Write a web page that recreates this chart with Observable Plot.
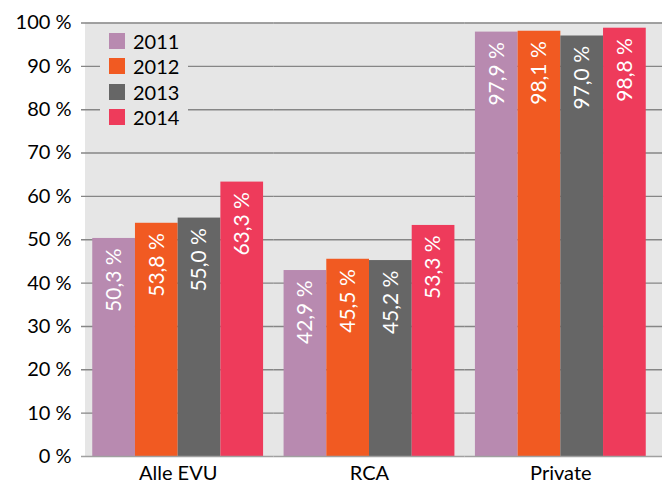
<!DOCTYPE html>
<html><head><meta charset="utf-8">
<script src="https://cdn.jsdelivr.net/npm/d3@7"></script>
<script src="https://cdn.jsdelivr.net/npm/@observablehq/plot@0.6"></script>
<style>
body{margin:0;background:#fff;}
#wrap{position:relative;width:662px;height:483px;font-family:Lato,sans-serif;}
#legend{position:absolute;left:100px;top:28px;width:88px;height:102px;background:#e6e6e6;}
.item{position:absolute;left:9px;height:16px;display:flex;align-items:center;font-size:20px;color:#000;white-space:nowrap;}
.sw{width:16px;height:16px;margin-right:8px;flex:none;}
</style></head><body><div id="wrap"></div>
<script>
const categories = ["Alle EVU", "RCA", "Private"];
const years = ["2011", "2012", "2013", "2014"];
const v2011 = [50.3, 42.9, 97.9];
const v2012 = [53.8, 45.5, 98.1];
const v2013 = [55.0, 45.2, 97.0];
const v2014 = [63.3, 53.3, 98.8];
const colors = ["#b88ab0", "#f15a22", "#666666", "#ee3b5b"];
const yTicks = [0, 10, 20, 30, 40, 50, 60, 70, 80, 90, 100];

const series = [v2011, v2012, v2013, v2014];
const data = categories.flatMap((c, i) => years.map((y, j) => ({category: c, year: y, value: series[j][i]})));
const fmt = v => v.toFixed(1).replace(".", ",") + " %";
const bg = "#e6e6e6", grid = "#868686";
const first = [categories[0]], mid = [categories[1]], last = [categories[2]];
const gridTicks = yTicks.filter(t => t > 0);

const chart = Plot.plot({
  width: 662, height: 483,
  marginLeft: 82, marginRight: 6, marginTop: 22.5, marginBottom: 27,
  style: {fontFamily: "Lato, sans-serif", fontSize: "20px", color: "#000", background: "transparent"},
  fx: {domain: categories, padding: 0, round: false, label: null},
  x: {domain: years, paddingInner: 0, paddingOuter: 0.24, round: false, axis: null},
  y: {domain: [0, 100], axis: null},
  color: {domain: years, range: colors},
  marks: [
    Plot.rectY(first, {fx: d => d, y1: 0, y2: 100, fill: bg, insetLeft: 3, insetRight: -1}),
    Plot.rectY(mid, {fx: d => d, y1: 0, y2: 100, fill: bg, insetLeft: -1, insetRight: -1}),
    Plot.rectY(last, {fx: d => d, y1: 0, y2: 100, fill: bg, insetLeft: -1, insetRight: -6}),
    Plot.ruleY(gridTicks, {fx: () => categories[0], y: d => d, stroke: grid, strokeWidth: 1.4, insetLeft: -1}),
    Plot.ruleY(gridTicks, {fx: () => categories[1], y: d => d, stroke: grid, strokeWidth: 1.4}),
    Plot.ruleY(gridTicks, {fx: () => categories[2], y: d => d, stroke: grid, strokeWidth: 1.4, insetRight: -6}),
    Plot.barY(data, {fx: "category", x: "year", y: "value", fill: "year"}),
    Plot.ruleY([0], {fx: () => categories[0], stroke: "#a0a0a0", strokeWidth: 1.4, insetLeft: -1}),
    Plot.ruleY([0], {fx: () => categories[1], stroke: "#a0a0a0", strokeWidth: 1.4}),
    Plot.ruleY([0], {fx: () => categories[2], stroke: "#a0a0a0", strokeWidth: 1.4, insetRight: -6}),
    Plot.text(data, {fx: "category", x: "year", y: "value", text: d => fmt(d.value), rotate: -90,
      textAnchor: "end", lineAnchor: "middle", dy: 10, fill: "white", fontSize: 21}),
    Plot.axisY(yTicks, {tickSize: 0, tickPadding: 11, tickFormat: d => d + " %", fontSize: 20, label: null}),
    Plot.axisFx({anchor: "bottom", tickSize: 0, tickPadding: 9, label: null, fontSize: 20})
  ]
});
const wrap = document.getElementById("wrap");
wrap.appendChild(chart);
const legend = document.createElement("div");
legend.id = "legend";
years.forEach((y, i) => {
  const item = document.createElement("div");
  item.className = "item";
  item.style.top = (5 + i * 25.3) + "px";
  item.innerHTML = `<span class="sw" style="background:${colors[i]}"></span><span>${y}</span>`;
  legend.appendChild(item);
});
wrap.appendChild(legend);
</script></body></html>
